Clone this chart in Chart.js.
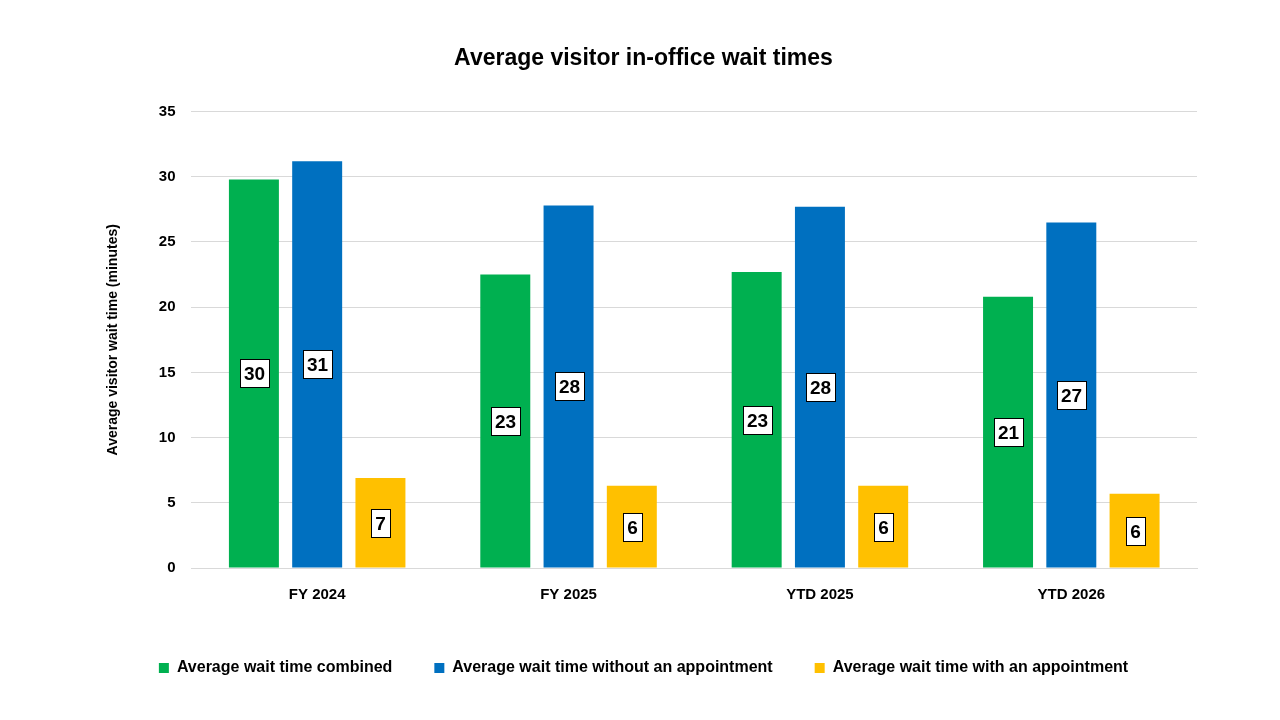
<!DOCTYPE html>
<html>
<head>
<meta charset="utf-8">
<script src="https://cdn.jsdelivr.net/npm/chart.js@4"></script>
<style>
  html, body { margin: 0; padding: 0; background: #fff; }
</style>
</head>
<body>
<canvas id="waitChart" width="1280" height="720"></canvas>
<script>
const periods = ['FY 2024', 'FY 2025', 'YTD 2025', 'YTD 2026'];
const combined = [29.8, 22.5, 22.7, 20.8];
const withoutAppt = [31.2, 27.8, 27.7, 26.5];
const withAppt = [6.9, 6.3, 6.3, 5.7];
const yTicks = [0, 5, 10, 15, 20, 25, 30, 35];

const fontFamily = "'Liberation Sans', Arial, sans-serif";

// white boxed value label in the middle of each bar
const boxLabels = {
    id: 'boxLabels',
    afterDatasetsDraw(chart) {
        const ctx = chart.ctx;
        ctx.save();
        ctx.font = 'bold 19px ' + fontFamily;
        ctx.textAlign = 'center';
        ctx.textBaseline = 'middle';
        chart.data.datasets.forEach((ds, i) => {
            chart.getDatasetMeta(i).data.forEach((bar, j) => {
                const txt = Math.round(ds.data[j]).toString();
                const w = Math.round(ctx.measureText(txt).width + 8);
                const h = 28;
                const cx = Math.round(bar.x);
                const cy = Math.round((bar.y + bar.base) / 2);
                const x0 = Math.round(cx - w / 2), y0 = cy - h / 2;
                ctx.fillStyle = '#fff';
                ctx.fillRect(x0, y0, w, h);
                ctx.strokeStyle = '#000';
                ctx.lineWidth = 1;
                ctx.strokeRect(x0 + 0.5, y0 + 0.5, w, h);
                ctx.fillStyle = '#000';
                ctx.fillText(txt, cx + 0.5, cy + 1.5);
            });
        });
        ctx.restore();
    }
};

new Chart(document.getElementById('waitChart'), {
    type: 'bar',
    data: {
        labels: periods,
        datasets: [
            { label: 'Average wait time combined', data: combined, backgroundColor: '#00b050' },
            { label: 'Average wait time without an appointment', data: withoutAppt, backgroundColor: '#0070c0' },
            { label: 'Average wait time with an appointment', data: withAppt, backgroundColor: '#ffc000' }
        ]
    },
    options: {
        responsive: false,
        animation: false,
        devicePixelRatio: 1,
        datasets: { bar: { categoryPercentage: 0.755, barPercentage: 0.79 } },
        layout: { padding: { left: 90, right: 83, top: 30, bottom: 34 } },
        plugins: {
            title: {
                display: true,
                text: 'Average visitor in-office wait times',
                color: '#000',
                font: { family: fontFamily, size: 23, weight: 'bold' },
                padding: { top: 15, bottom: 39 }
            },
            legend: {
                position: 'bottom',
                labels: {
                    color: '#000',
                    boxWidth: 10,
                    boxHeight: 10,
                    padding: 42,
                    font: { family: fontFamily, size: 16, weight: 'bold' }
                }
            },
            tooltip: { enabled: false }
        },
        scales: {
            x: {
                grid: { display: false },
                border: { color: '#d9d9d9' },
                ticks: { color: '#000', padding: 10, font: { family: fontFamily, size: 15, weight: 'bold' } },
                afterFit(axis) { axis.height += 4; }
            },
            y: {
                min: 0,
                max: 35,
                afterBuildTicks(axis) { axis.ticks = yTicks.map(v => ({ value: v })); },
                grid: { color: '#d9d9d9', drawTicks: false },
                border: { display: false },
                ticks: { color: '#000', padding: 16, font: { family: fontFamily, size: 15, weight: 'bold' } },
                title: {
                    display: true,
                    text: 'Average visitor wait time (minutes)',
                    color: '#000',
                    font: { family: fontFamily, size: 14, weight: 'bold' },
                    padding: { top: 15, bottom: 21 }
                }
            }
        }
    },
    plugins: [boxLabels]
});
</script>
</body>
</html>
